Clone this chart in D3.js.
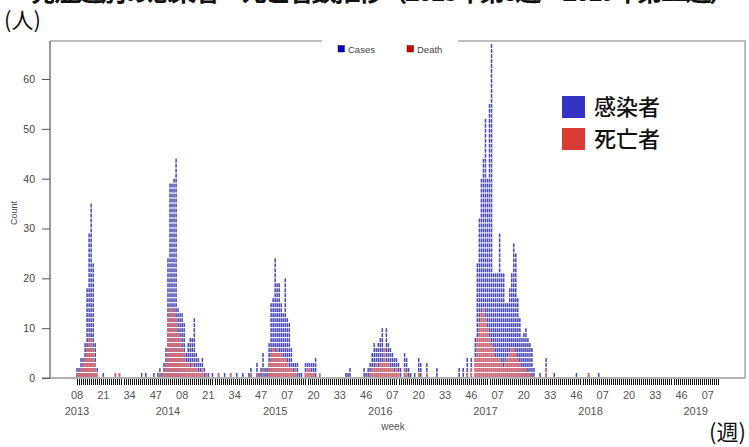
<!DOCTYPE html>
<html>
<head>
<meta charset="utf-8">
<script src="https://cdn.jsdelivr.net/npm/d3@7"></script>
<style>
  body { margin: 0; background: #fff; }
  text { font-family: "Liberation Sans", Arial, sans-serif; }
  .jp { font-family: "Noto Sans CJK JP", sans-serif; }
</style>
</head>
<body>
<div id="chart"></div>
<script>
// weekly counts, starting at 2013 week 08 (one row = 13 weeks)
const cases = [
  2, 2, 4, 4, 7, 18, 29, 35, 23, 7, 2, 0, 0,
  1, 0, 0, 0, 0, 0, 1, 0, 1, 0, 0, 0, 0,
  0, 0, 0, 0, 0, 0, 1, 0, 1, 0, 0, 0, 1,
  0, 1, 2, 1, 3, 6, 24, 39, 39, 40, 44, 14, 13,
  13, 11, 5, 7, 8, 8, 12, 5, 4, 3, 4, 2, 1,
  1, 0, 1, 0, 0, 1, 0, 0, 1, 0, 0, 1, 0,
  0, 1, 0, 0, 1, 0, 0, 1, 2, 0, 0, 3, 1,
  2, 5, 2, 2, 7, 15, 16, 24, 19, 19, 15, 13, 20,
  12, 11, 6, 3, 3, 3, 1, 1, 0, 3, 3, 3, 3,
  3, 4, 0, 1, 0, 0, 0, 0, 0, 0, 0, 0, 0,
  0, 0, 0, 1, 1, 2, 0, 0, 0, 0, 0, 0, 2,
  1, 2, 3, 5, 7, 6, 7, 8, 10, 6, 10, 7, 6,
  5, 4, 4, 3, 2, 0, 5, 4, 2, 1, 0, 1, 0,
  4, 3, 0, 0, 3, 0, 0, 0, 0, 2, 0, 0, 0,
  0, 0, 0, 0, 0, 0, 0, 2, 0, 2, 0, 4, 0,
  4, 0, 8, 23, 32, 40, 44, 52, 40, 55, 67, 21, 21,
  21, 29, 21, 21, 15, 15, 18, 21, 27, 25, 16, 12, 8,
  9, 10, 8, 7, 6, 2, 0, 0, 1, 0, 0, 4, 0,
  0, 0, 1, 0, 0, 0, 0, 0, 0, 0, 0, 0, 0,
  1, 0, 0, 0, 0, 0, 1, 0, 0, 0, 0, 1, 0,
  0, 0, 0, 0, 0, 0, 0, 0, 0, 0, 0, 0, 0,
  0, 0, 0, 0, 0, 0, 0, 0, 0, 0, 0, 0, 0,
  0, 0, 0, 0, 0, 0, 0, 0, 0, 0, 0, 0, 0,
  0, 0, 0, 0, 0, 0, 0, 0, 0, 0, 0, 0, 0,
  0, 0, 0, 0, 0, 0
];

const deaths = [
  1, 1, 2, 3, 4, 6, 8, 8, 6, 3, 1, 0, 0,
  0, 0, 0, 0, 0, 0, 1, 0, 1, 0, 0, 0, 0,
  0, 0, 0, 0, 0, 0, 0, 0, 0, 0, 0, 0, 0,
  0, 0, 1, 0, 1, 3, 12, 14, 14, 13, 12, 9, 8,
  6, 5, 3, 3, 2, 3, 2, 2, 1, 1, 2, 0, 1,
  0, 0, 0, 0, 0, 1, 0, 0, 0, 0, 0, 1, 0,
  0, 0, 0, 0, 0, 0, 0, 0, 1, 0, 0, 1, 0,
  0, 2, 0, 0, 3, 5, 6, 5, 6, 5, 5, 4, 4,
  3, 2, 2, 1, 2, 0, 0, 0, 0, 1, 2, 2, 1,
  1, 0, 0, 1, 0, 0, 0, 0, 0, 0, 0, 0, 0,
  0, 0, 0, 0, 0, 0, 0, 0, 0, 0, 0, 0, 0,
  0, 0, 1, 2, 2, 3, 2, 3, 3, 6, 3, 3, 2,
  2, 1, 2, 1, 0, 0, 2, 1, 0, 0, 0, 0, 0,
  1, 0, 0, 0, 1, 0, 0, 0, 0, 0, 0, 0, 0,
  0, 0, 0, 0, 0, 0, 0, 0, 0, 0, 0, 1, 0,
  2, 0, 4, 8, 11, 13, 14, 12, 10, 8, 7, 6, 4,
  4, 4, 3, 2, 3, 4, 5, 6, 6, 5, 4, 3, 2,
  2, 2, 1, 1, 0, 0, 0, 0, 0, 0, 0, 2, 0,
  0, 0, 0, 0, 0, 0, 0, 0, 0, 0, 0, 0, 0,
  0, 0, 0, 0, 0, 0, 1, 0, 0, 0, 0, 0, 0,
  0, 0, 0, 0, 0, 0, 0, 0, 0, 0, 0, 0, 0,
  0, 0, 0, 0, 0, 0, 0, 0, 0, 0, 0, 0, 0,
  0, 0, 0, 0, 0, 0, 0, 0, 0, 0, 0, 0, 0,
  0, 0, 0, 0, 0, 0, 0, 0, 0, 0, 0, 0, 0,
  0, 0, 0, 0, 0, 0
];

// week labels every 13 weeks
const weekLabels = ["08", "21", "34", "47", "08", "21", "34", "47", "07", "20", "33", "46",
  "07", "20", "33", "46", "07", "20", "33", "46", "07", "20", "33", "46", "07"];
const years = ["2013", "2014", "2015", "2016", "2017", "2018", "2019"];
const yearWeekIndex = [0, 45, 98, 150, 202, 254, 306];
const yTicks = [0, 10, 20, 30, 40, 50, 60];

const width = 749, height = 447;

const svg = d3.select("#chart").append("svg")
  .attr("width", width)
  .attr("height", height);

const x = d3.scaleLinear().domain([0, cases.length - 1]).range([77, 718]);
const y = d3.scaleLinear().domain([0, 60]).range([378, 79]);
const barW = 1.55;

// title, cropped at the top in the original
svg.append("text")
  .attr("class", "jp")
  .attr("x", 30).attr("y", 1)
  .attr("textLength", 705)
  .attr("font-size", 26).attr("font-weight", "bold")
  .attr("fill", "#111")
  .text("発症週別の感染者・死亡者数推移（2013年第8週～2019年第12週）");

svg.append("text")
  .attr("class", "jp")
  .attr("x", 4).attr("y", 28)
  .attr("font-size", 22).attr("fill", "#111")
  .text("(人)");

// plot frame (top and right side)
svg.append("path")
  .attr("d", "M50,41H322M458,41H745V378")
  .attr("stroke", "#a8a8a8").attr("stroke-width", 1.5).attr("fill", "none");

// y axis
const yAxis = svg.append("g")
  .attr("transform", "translate(50,0)")
  .call(d3.axisLeft(y).tickValues(yTicks).tickSize(8).tickPadding(7));
yAxis.select(".domain").remove();
yAxis.selectAll("line").attr("stroke", "#555");
yAxis.selectAll("text").attr("font-size", 10.5).attr("fill", "#444")
  .attr("font-family", "Liberation Sans, Arial, sans-serif");
svg.append("line")
  .attr("x1", 50).attr("x2", 50).attr("y1", 41).attr("y2", y(0))
  .attr("stroke", "#555").attr("stroke-width", 1.2);
svg.append("line")
  .attr("x1", 42).attr("x2", 745).attr("y1", y(0)).attr("y2", y(0))
  .attr("stroke", "#666").attr("stroke-width", 1.2);

svg.append("text")
  .attr("transform", "translate(17,213) rotate(-90)")
  .attr("text-anchor", "middle")
  .attr("font-size", 9).attr("fill", "#444")
  .text("Count");

// weekly ticks under the axis
svg.append("g").selectAll("line")
  .data(d3.range(cases.length))
  .join("line")
  .attr("x1", function (d) { return Math.round(x(d)) + 0.5; })
  .attr("x2", function (d) { return Math.round(x(d)) + 0.5; })
  .attr("y1", y(0) + 1)
  .attr("y2", y(0) + 7)
  .attr("stroke", "#111")
  .attr("stroke-width", 1)
  .attr("shape-rendering", "crispEdges");

// stacked unit blocks: one block per case
function blocks(series) {
  const out = [];
  series.forEach(function (v, i) {
    for (let k = 0; k < v; k++) out.push({ i: i, k: k });
  });
  return out;
}

svg.append("g").selectAll("rect")
  .data(blocks(cases))
  .join("rect")
  .attr("x", function (d) { return x(d.i) - barW / 2; })
  .attr("y", function (d) { return y(d.k + 1); })
  .attr("width", barW)
  .attr("height", function (d) { return y(d.k) - y(d.k + 1) - 1.1; })
  .attr("fill", "#4a4ab8");

svg.append("g").selectAll("rect")
  .data(blocks(deaths))
  .join("rect")
  .attr("x", function (d) { return x(d.i) - barW / 2; })
  .attr("y", function (d) { return y(d.k + 1); })
  .attr("width", barW)
  .attr("height", function (d) { return y(d.k) - y(d.k + 1) - 1.1; })
  .attr("fill", "#e46a6a");

// x labels
svg.append("g").selectAll("text")
  .data(weekLabels)
  .join("text")
  .attr("x", function (d, i) { return x(i * 13); })
  .attr("y", 399)
  .attr("text-anchor", "middle")
  .attr("font-size", 11).attr("fill", "#555")
  .text(function (d) { return d; });

svg.append("g").selectAll("text")
  .data(years)
  .join("text")
  .attr("x", function (d, i) { return x(yearWeekIndex[i]); })
  .attr("y", 415)
  .attr("text-anchor", "middle")
  .attr("font-size", 11).attr("fill", "#555")
  .text(function (d) { return d; });

svg.append("text")
  .attr("x", 393).attr("y", 430)
  .attr("text-anchor", "middle")
  .attr("font-size", 10).attr("fill", "#555")
  .text("week");

svg.append("text")
  .attr("class", "jp")
  .attr("x", 709).attr("y", 440)
  .attr("font-size", 22).attr("fill", "#111")
  .text("(週)");

// small legend inside the frame
const legendSmall = [
  { label: "Cases", color: "#0000cc", x: 338 },
  { label: "Death", color: "#dd0000", x: 407 }
];
const ls = svg.append("g").selectAll("g").data(legendSmall).join("g");
ls.append("rect")
  .attr("x", function (d) { return d.x; }).attr("y", 45.5)
  .attr("width", 6.5).attr("height", 6.5)
  .attr("fill", function (d) { return d.color; })
  .attr("stroke", "#222").attr("stroke-width", 0.5);
ls.append("text")
  .attr("x", function (d) { return d.x + 10; }).attr("y", 52.5)
  .attr("font-size", 9.5).attr("fill", "#444")
  .text(function (d) { return d.label; });

// large Japanese legend
const legendBig = [
  { label: "感染者", color: "#3434c4", y: 96 },
  { label: "死亡者", color: "#da3a34", y: 128 }
];
const lb = svg.append("g").selectAll("g").data(legendBig).join("g");
lb.append("rect")
  .attr("x", 562).attr("y", function (d) { return d.y; })
  .attr("width", 23).attr("height", 22)
  .attr("fill", function (d) { return d.color; });
lb.append("text")
  .attr("class", "jp")
  .attr("x", 594).attr("y", function (d) { return d.y + 19; })
  .attr("font-size", 22).attr("font-weight", 500).attr("fill", "#111")
  .text(function (d) { return d.label; });
</script>
</body>
</html>
